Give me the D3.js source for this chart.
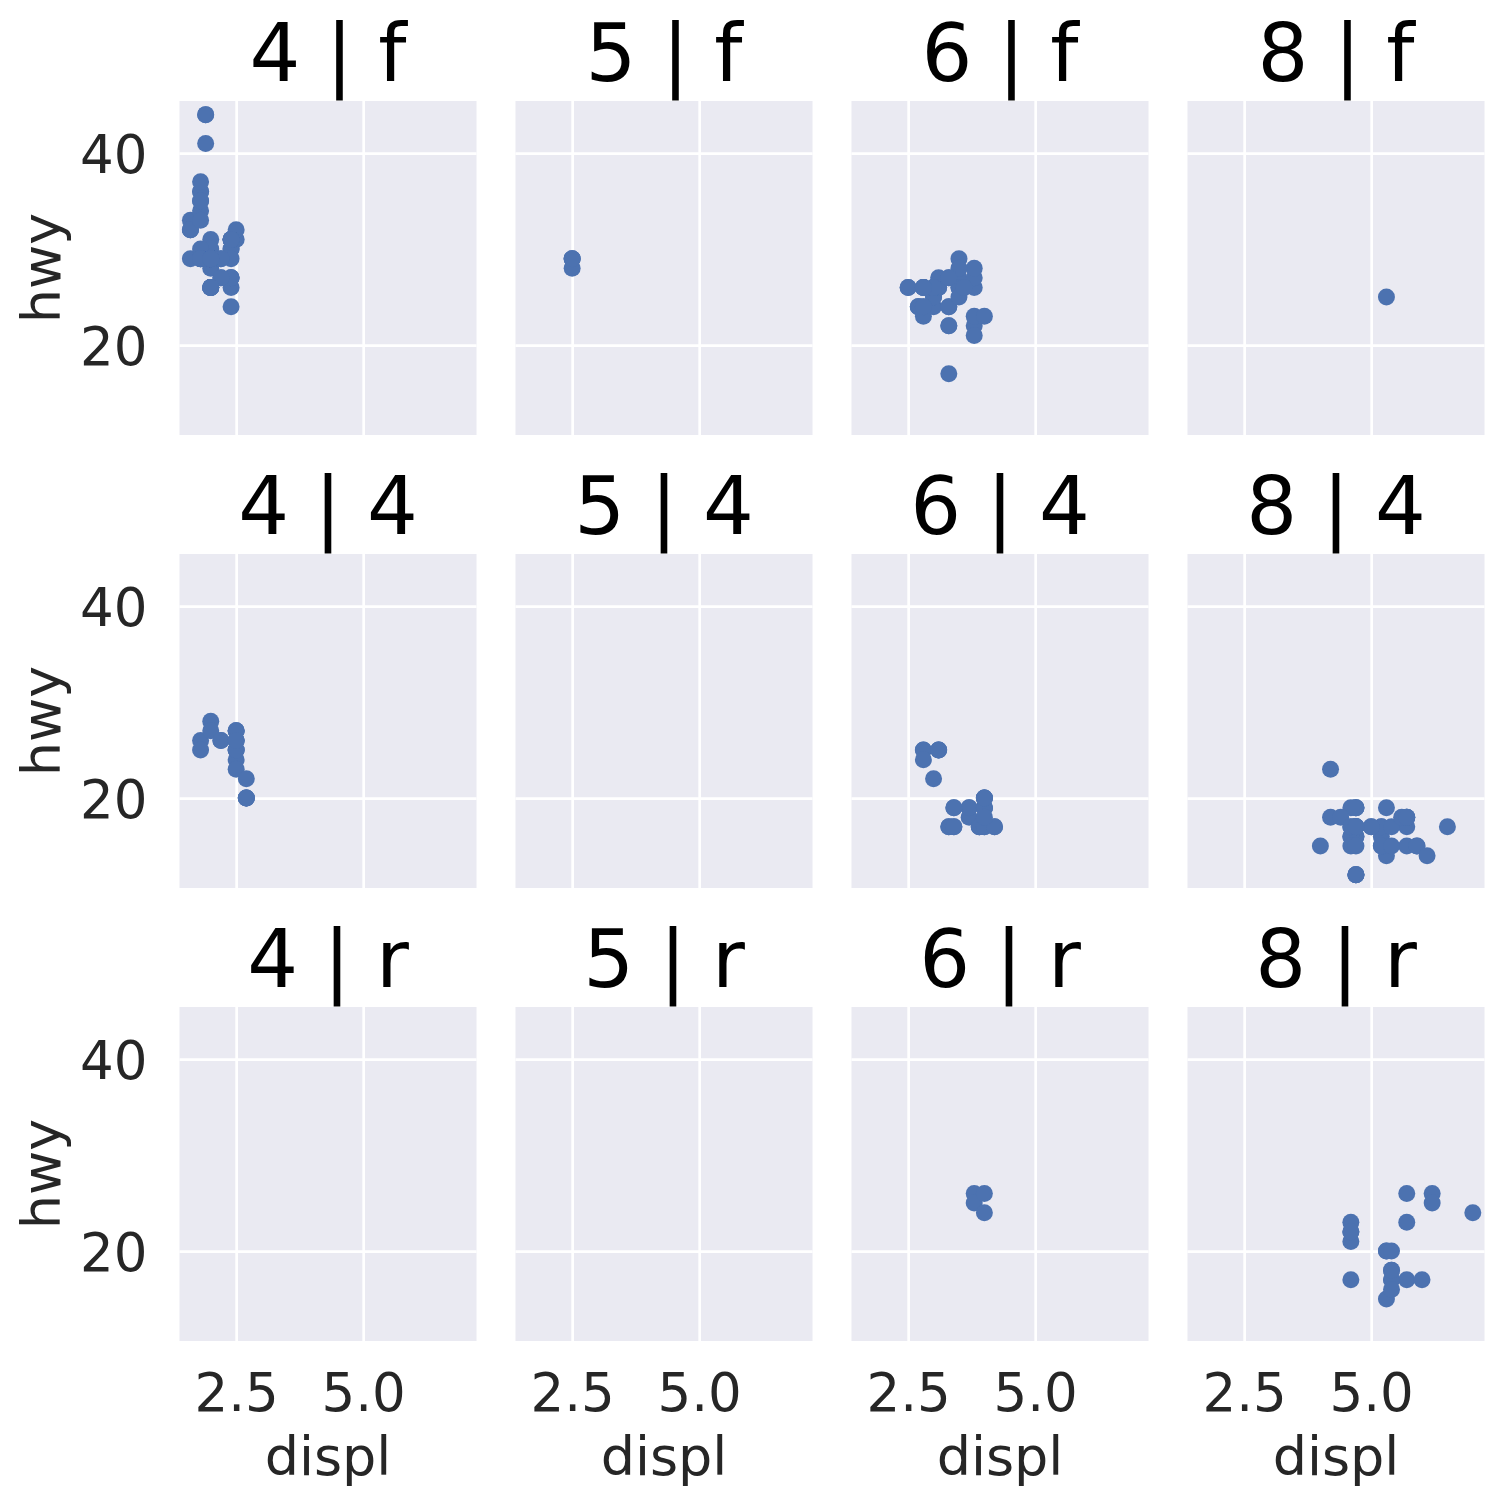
<!DOCTYPE html>
<html>
<head>
<meta charset="utf-8">
<script src="https://cdn.jsdelivr.net/npm/d3@7"></script>
<style>
  html, body { margin: 0; padding: 0; background: #ffffff; }
  svg { display: block; font-family: "DejaVu Sans", sans-serif; }
</style>
</head>
<body>
<svg id="chart" width="1505" height="1505"></svg>
<script>
// ---- Data (mpg subset: displ, cyl, drv, hwy) ----
const colCats = [4, 5, 6, 8];          // cyl (facet columns)
const rowCats = ["f", "4", "r"];        // drv (facet rows)
const xTicks = [2.5, 5.0];
const yTicks = [20, 40];

const displ = [
  // 4 | f
  1.8,1.8,2.0,2.0, 2.4,2.4, 2.4, 1.6,1.6,1.6,1.6,1.6,1.8,1.8,1.8,2.0,
  2.4,2.4,2.4,2.4, 2.0,2.0,2.0,2.0, 2.4,2.4,2.5,2.5, 2.2,2.2,2.4,2.4,
  2.2,2.2,2.4,2.4, 1.8,1.8,1.8,1.8,1.8, 2.0,2.0,2.0,2.0, 1.9,2.0,2.0,2.0,2.0,
  1.9,1.9,2.0,2.0, 1.8,1.8,2.0,2.0,
  // 5 | f
  2.5,2.5,2.5,2.5,
  // 6 | f
  2.8,2.8,3.1, 3.1,3.5,3.6, 3.0,3.3,3.3,3.3,3.3,3.3,3.8,3.8,3.8,4.0,
  2.5,2.5,3.3, 2.7,2.7,2.7, 3.5,3.5,3.5, 3.0,3.0,3.5, 3.1,3.8,3.8,3.8,
  3.0,3.0,3.5, 3.0,3.0,3.3, 2.8,2.8,2.8,2.8,2.8,3.6,
  // 8 | f
  5.3,
  // 4 | 4
  1.8,1.8,2.0,2.0, 2.2,2.2, 2.5,2.5,2.5,2.5,2.5, 2.5,2.5,2.5,2.5,2.5,2.5,
  2.7,2.7, 2.7,2.7,2.7,
  // 6 | 4
  2.8,2.8,3.1,3.1,2.8,3.1, 3.7,3.7,3.9,3.9, 3.9, 4.0,4.0,4.0,4.0, 4.2,4.2,
  3.0,3.7,4.0, 4.0,4.0, 3.3,3.3,4.0, 3.4,3.4,4.0, 3.4,3.4,4.0,4.0,
  // 8 | 4
  4.2, 5.3,5.3,5.7,6.5, 4.7,4.7,4.7,5.2,5.2, 4.7,4.7,4.7,5.2,5.7,5.9,
  4.7,4.7,4.7,4.7,4.7,5.2,5.2,5.7,5.9, 4.6,5.0, 4.6,4.6,4.6,5.4,5.4,
  4.7,4.7,4.7,5.7,6.1, 4.0,4.2,4.4,4.6, 4.6,5.0, 5.6, 4.7,5.7, 4.7,
  // 6 | r
  3.8,3.8,4.0,4.0,
  // 8 | r
  5.3,5.3,5.3,5.7,6.0, 5.7,5.7,6.2,6.2,7.0, 4.6,5.4,5.4, 5.4,5.4,5.4,
  4.6,4.6,4.6,4.6,5.4
];

const hwy = [
  // 4 | f
  29,29,31,30, 27,30, 24, 33,32,32,29,32,34,36,36,29,
  26,27,30,31, 26,26,28,26, 29,27,31,32, 27,29,31,31,
  27,29,31,31, 30,33,35,37,35, 29,26,29,29, 44,29,26,29,29,
  44,41,29,26, 29,29,29,29,
  // 5 | f
  29,29,28,29,
  // 6 | f
  26,26,27, 26,29,26, 24,22,22,24,24,17,22,21,23,23,
  26,26,27, 24,24,24, 27,26,26, 25,25,25, 26,26,27,28,
  26,26,28, 26,26,27, 24,23,24,26,26,26,
  // 8 | f
  25,
  // 4 | 4
  26,25,28,27, 26,26, 26,26,27,25,27, 25,24,27,25,26,23,
  20,20, 20,20,22,
  // 6 | 4
  25,25,25,25,24,25, 19,18,17,17, 17, 17,19,17,19, 17,17,
  22,19,20, 19,19, 17,17,20, 19,17,20, 17,19,18,20,
  // 8 | 4
  23, 19,14,15,17, 19,19,12,17,15, 17,12,17,16,18,15,
  16,12,17,17,16,15,17,17,15, 19,17, 16,16,17,15,17,
  17,12,19,18,14, 15,18,18,15, 17,17, 18, 15,18, 17,
  // 6 | r
  26,25,26,24,
  // 8 | r
  20,15,20,17,17, 26,23,26,25,24, 17,17,18, 17,16,18,
  21,22,23,22,20
];

const cyl = [].concat(
  Array(58).fill(4), Array(4).fill(5), Array(44).fill(6), Array(1).fill(8),
  Array(22).fill(4), Array(32).fill(6), Array(47).fill(8),
  Array(4).fill(6), Array(21).fill(8)
);
const drv = [].concat(
  Array(58).fill("f"), Array(4).fill("f"), Array(44).fill("f"), Array(1).fill("f"),
  Array(22).fill("4"), Array(32).fill("4"), Array(47).fill("4"),
  Array(4).fill("r"), Array(21).fill("r")
);

const points = displ.map((d, i) => ({ displ: d, hwy: hwy[i], cyl: cyl[i], drv: drv[i] }));

// ---- Layout ----
const svg = d3.select("#chart");
const panelLeft = 179.5, panelW = 297, colPitch = 336;
const panelTop = 101, panelH = 334, rowPitch = 453;

const x = d3.scaleLinear().domain([1.385, 7.23]).range([0, panelW]);
const y = d3.scaleLinear().domain([10.63, 45.42]).range([panelH, 0]);

const bg = "#EAEAF2", pointColor = "#4C72B0", textColor = "#262626";

rowCats.forEach((rv, ri) => {
  colCats.forEach((cv, ci) => {
    const g = svg.append("g")
      .attr("transform", `translate(${panelLeft + ci * colPitch},${panelTop + ri * rowPitch})`);

    g.append("rect").attr("width", panelW).attr("height", panelH).attr("fill", bg);

    // grid lines via axes
    const gx = g.append("g").attr("transform", `translate(0,${panelH})`)
      .call(d3.axisBottom(x).tickValues(xTicks).tickSize(-panelH).tickFormat(""));
    const gy = g.append("g")
      .call(d3.axisLeft(y).tickValues(yTicks).tickSize(-panelW).tickFormat(""));
    [gx, gy].forEach(a => {
      a.select(".domain").remove();
      a.selectAll(".tick line").attr("stroke", "#ffffff").attr("stroke-width", 2.7);
    });

    // points
    g.selectAll("circle.pt")
      .data(points.filter(p => p.cyl === cv && p.drv === rv))
      .join("circle")
      .attr("class", "pt")
      .attr("cx", d => x(d.displ))
      .attr("cy", d => y(d.hwy))
      .attr("r", 8.5)
      .attr("fill", pointColor);

    // title
    g.append("text")
      .attr("x", panelW / 2).attr("y", -20)
      .attr("text-anchor", "middle")
      .attr("font-size", 80)
      .attr("fill", "#000000")
      .text(`${cv} | ${rv}`);

    // y tick labels on first column
    if (ci === 0) {
      const ya = g.append("g")
        .call(d3.axisLeft(y).tickValues(yTicks).tickSize(0).tickPadding(32).tickFormat(d3.format("d")));
      ya.select(".domain").remove();
      ya.selectAll("text")
        .attr("font-size", 53).attr("fill", textColor)
        .attr("font-family", "DejaVu Sans").attr("dy", "0.36em");
      g.append("text")
        .attr("transform", `translate(${60 - (panelLeft)},${panelH / 2}) rotate(-90)`)
        .attr("text-anchor", "middle")
        .attr("font-size", 54)
        .attr("fill", textColor)
        .text("hwy");
    }

    // x tick labels on bottom row
    if (ri === rowCats.length - 1) {
      const xa = g.append("g").attr("transform", `translate(0,${panelH})`)
        .call(d3.axisBottom(x).tickValues(xTicks).tickSize(0).tickPadding(0).tickFormat(d3.format(".1f")));
      xa.select(".domain").remove();
      xa.selectAll("text")
        .attr("font-size", 53).attr("fill", textColor)
        .attr("font-family", "DejaVu Sans").attr("dy", null).attr("y", 70);
      g.append("text")
        .attr("x", panelW / 2).attr("y", panelH + 134)
        .attr("text-anchor", "middle")
        .attr("font-size", 54)
        .attr("fill", textColor)
        .text("displ");
    }
  });
});
</script>
</body>
</html>
